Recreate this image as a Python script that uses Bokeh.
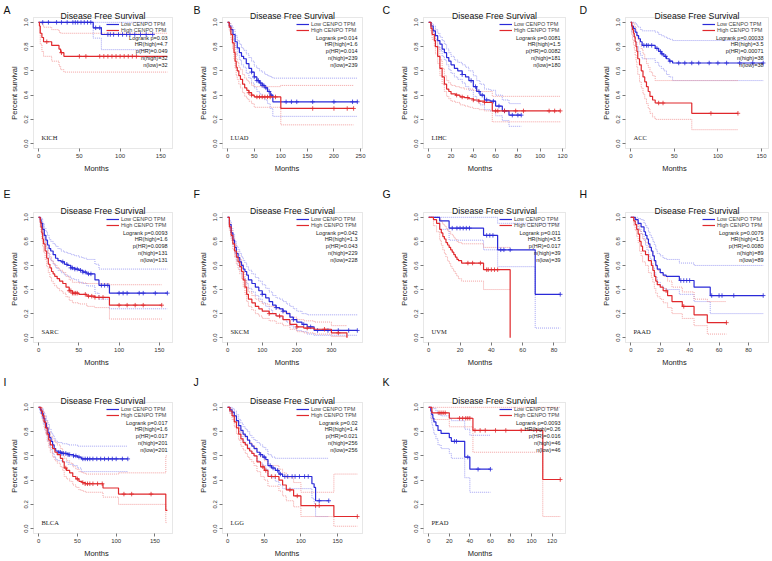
import numpy as np
from bokeh.plotting import figure
from bokeh.layouts import column, row
from bokeh.models import (Label, Legend, LegendItem, FixedTicker, Range1d,
                          NumeralTickFormatter, BoxAnnotation)
from bokeh.embed import file_html
from bokeh.resources import INLINE

TITLE = "Disease Free Survival"
LEGEND_LOW = "Low CENPO TPM"
LEGEND_HIGH = "High CENPO TPM"
X_LABEL = "Months"
Y_LABEL = "Percent survival"
Y_TICKS = [0.0, 0.2, 0.4, 0.6, 0.8, 1.0]

# ---------------- A: KICH ----------------
A_cancer = "KICH"
A_xticks = [0, 50, 100, 150]
A_stats = ["Logrank p=0.03", "HR(high)=4.7", "p(HR)=0.049", "n(high)=32", "n(low)=32"]
A_low_t = [0, 67, 77, 140]
A_low_s = [1.0, 0.955, 0.90, 0.90]
A_low_lo = [1.0, 0.87, 0.775, 0.775]
A_low_hi = [1.0, 1.0, 1.0, 1.0]
A_low_cens = [5, 12, 22, 28, 35, 42, 45, 48, 52, 56, 60, 64, 70, 75, 85, 88, 92, 98, 103, 108, 112, 118, 125, 132, 140]
A_high_t = [0, 1, 2, 4, 6, 16, 25, 27, 31, 158]
A_high_s = [1.0, 0.97, 0.91, 0.875, 0.84, 0.81, 0.78, 0.75, 0.72, 0.72]
A_high_lo = [1.0, 0.91, 0.82, 0.76, 0.72, 0.68, 0.64, 0.61, 0.59, 0.59]
A_high_hi = [1.0, 1.0, 1.0, 0.98, 0.96, 0.94, 0.92, 0.91, 0.91, 0.91]
A_high_cens = [10, 28, 50, 58, 75, 80, 85, 90, 95, 100, 105, 110, 115, 120]

# ---------------- B: LUAD ----------------
B_cancer = "LUAD"
B_xticks = [0, 50, 100, 150, 200, 250]
B_stats = ["Logrank p=0.014", "HR(high)=1.6", "p(HR)=0.014", "n(high)=239", "n(low)=239"]
B_low_t = [0, 3, 6, 10, 14, 18, 22, 26, 30, 35, 40, 45, 50, 55, 60, 65, 70, 75, 80, 85, 244]
B_low_s = [1.0, 0.97, 0.94, 0.9, 0.84, 0.79, 0.75, 0.72, 0.7, 0.66, 0.62, 0.59, 0.55, 0.52, 0.5, 0.48, 0.46, 0.43, 0.4, 0.345, 0.345]
B_low_lo = [1.0, 0.95, 0.91, 0.86, 0.79, 0.73, 0.69, 0.65, 0.63, 0.58, 0.54, 0.5, 0.46, 0.43, 0.41, 0.38, 0.36, 0.33, 0.29, 0.225, 0.225]
B_low_hi = [1.0, 0.99, 0.97, 0.94, 0.89, 0.85, 0.82, 0.79, 0.77, 0.74, 0.71, 0.68, 0.64, 0.62, 0.6, 0.59, 0.57, 0.56, 0.55, 0.54, 0.54]
B_low_cens = [45, 50, 55, 58, 62, 65, 68, 72, 78, 82, 110, 120, 130, 160, 200, 235, 244]
B_high_t = [0, 3, 6, 9, 12, 14, 16, 18, 21, 24, 28, 32, 36, 40, 45, 50, 100, 237]
B_high_s = [1.0, 0.96, 0.9, 0.83, 0.75, 0.68, 0.63, 0.6, 0.56, 0.53, 0.49, 0.46, 0.44, 0.42, 0.4, 0.385, 0.29, 0.29]
B_high_lo = [1.0, 0.93, 0.86, 0.78, 0.69, 0.62, 0.56, 0.53, 0.49, 0.46, 0.42, 0.39, 0.37, 0.35, 0.33, 0.3, 0.155, 0.155]
B_high_hi = [1.0, 0.99, 0.95, 0.89, 0.82, 0.75, 0.7, 0.67, 0.63, 0.61, 0.57, 0.54, 0.52, 0.5, 0.48, 0.47, 0.48, 0.48]
B_high_cens = [40, 45, 55, 60, 65, 70, 75, 80, 90, 160, 200, 225, 237]

# ---------------- C: LIHC ----------------
C_cancer = "LIHC"
C_xticks = [0, 20, 40, 60, 80, 100, 120]
C_stats = ["Logrank p=0.0081", "HR(high)=1.5", "p(HR)=0.0082", "n(high)=181", "n(low)=180"]
C_low_t = [0, 2, 4, 6, 8, 10, 12, 14, 16, 18, 20, 23, 26, 30, 33, 36, 40, 43, 46, 50, 55, 60, 66, 72, 83]
C_low_s = [1.0, 0.97, 0.93, 0.89, 0.85, 0.82, 0.78, 0.75, 0.71, 0.68, 0.65, 0.62, 0.6, 0.57, 0.55, 0.52, 0.47, 0.43, 0.40, 0.36, 0.35, 0.31, 0.27, 0.235, 0.235]
C_low_lo = [1.0, 0.95, 0.9, 0.85, 0.8, 0.77, 0.72, 0.69, 0.65, 0.61, 0.58, 0.55, 0.53, 0.5, 0.47, 0.44, 0.39, 0.35, 0.32, 0.28, 0.27, 0.23, 0.19, 0.143, 0.143]
C_low_hi = [1.0, 0.99, 0.97, 0.94, 0.91, 0.88, 0.85, 0.82, 0.78, 0.75, 0.72, 0.69, 0.67, 0.65, 0.63, 0.6, 0.56, 0.52, 0.49, 0.45, 0.44, 0.40, 0.36, 0.33, 0.33]
C_low_cens = [30, 38, 42, 45, 48, 52, 58, 63, 68, 75, 80, 83]
C_high_t = [0, 2, 3, 5, 6, 8, 10, 12, 14, 16, 18, 20, 24, 28, 32, 36, 40, 45, 50, 57, 118]
C_high_s = [1.0, 0.95, 0.9, 0.85, 0.8, 0.72, 0.62, 0.55, 0.49, 0.45, 0.43, 0.41, 0.4, 0.385, 0.38, 0.37, 0.36, 0.35, 0.34, 0.27, 0.27]
C_high_lo = [1.0, 0.92, 0.86, 0.8, 0.74, 0.66, 0.56, 0.49, 0.43, 0.39, 0.37, 0.35, 0.34, 0.32, 0.31, 0.3, 0.29, 0.28, 0.27, 0.18, 0.18]
C_high_hi = [1.0, 0.98, 0.94, 0.9, 0.86, 0.79, 0.69, 0.62, 0.56, 0.52, 0.5, 0.48, 0.47, 0.46, 0.45, 0.45, 0.44, 0.43, 0.43, 0.39, 0.39]
C_high_cens = [25, 30, 35, 40, 45, 50, 60, 62, 68, 78, 85, 108, 113, 118]

# ---------------- D: ACC ----------------
D_cancer = "ACC"
D_xticks = [0, 50, 100, 150]
D_stats = ["Logrank p=0.00033", "HR(high)=3.5", "p(HR)=0.00071", "n(high)=38", "n(low)=38"]
D_low_t = [0, 1, 3, 5, 7, 9, 11, 13, 28, 32, 35, 38, 41, 44, 48, 152]
D_low_s = [1.0, 0.97, 0.95, 0.92, 0.89, 0.865, 0.84, 0.81, 0.785, 0.76, 0.74, 0.72, 0.70, 0.68, 0.665, 0.665]
D_low_lo = [1.0, 0.92, 0.88, 0.84, 0.8, 0.76, 0.73, 0.7, 0.67, 0.64, 0.62, 0.6, 0.57, 0.55, 0.52, 0.52]
D_low_hi = [1.0, 1.0, 1.0, 0.99, 0.97, 0.96, 0.94, 0.93, 0.92, 0.9, 0.89, 0.88, 0.87, 0.86, 0.85, 0.85]
D_low_cens = [15, 18, 20, 24, 30, 34, 36, 40, 45, 55, 62, 70, 78, 90, 100, 110, 125, 140, 152]
D_high_t = [0, 1, 2, 3, 4, 5, 6, 7, 8, 10, 12, 14, 16, 18, 20, 22, 25, 28, 70, 123]
D_high_s = [1.0, 0.97, 0.94, 0.91, 0.88, 0.84, 0.8, 0.76, 0.7, 0.65, 0.6, 0.55, 0.51, 0.47, 0.43, 0.39, 0.36, 0.335, 0.25, 0.25]
D_high_lo = [1.0, 0.9, 0.86, 0.82, 0.78, 0.73, 0.68, 0.63, 0.57, 0.51, 0.46, 0.41, 0.37, 0.33, 0.29, 0.25, 0.22, 0.2, 0.115, 0.115]
D_high_hi = [1.0, 1.0, 1.0, 0.99, 0.98, 0.96, 0.93, 0.9, 0.86, 0.82, 0.78, 0.74, 0.7, 0.66, 0.63, 0.59, 0.56, 0.52, 0.52, 0.52]
D_high_cens = [32, 37, 92, 123]

# ---------------- E: SARC ----------------
E_cancer = "SARC"
E_xticks = [0, 50, 100, 150]
E_stats = ["Logrank p=0.0093", "HR(high)=1.6", "p(HR)=0.0098", "n(high)=131", "n(low)=131"]
E_low_t = [0, 2, 3, 5, 7, 9, 11, 13, 15, 18, 21, 24, 28, 32, 36, 40, 45, 50, 55, 60, 70, 75, 88, 160]
E_low_s = [1.0, 0.98, 0.95, 0.9, 0.85, 0.81, 0.77, 0.74, 0.72, 0.69, 0.66, 0.64, 0.63, 0.61, 0.6, 0.58, 0.57, 0.56, 0.545, 0.53, 0.48, 0.435, 0.37, 0.37]
E_low_lo = [1.0, 0.95, 0.91, 0.85, 0.79, 0.74, 0.7, 0.66, 0.64, 0.61, 0.58, 0.56, 0.54, 0.52, 0.51, 0.49, 0.48, 0.46, 0.45, 0.43, 0.37, 0.32, 0.24, 0.24]
E_low_hi = [1.0, 1.0, 0.99, 0.95, 0.91, 0.88, 0.85, 0.82, 0.8, 0.78, 0.76, 0.74, 0.72, 0.71, 0.7, 0.69, 0.68, 0.67, 0.66, 0.65, 0.61, 0.57, 0.57, 0.57]
E_low_cens = [30, 35, 40, 42, 45, 48, 52, 55, 58, 62, 65, 78, 82, 86, 100, 105, 110, 125, 130, 145, 160]
E_high_t = [0, 2, 3, 4, 5, 6, 8, 10, 12, 14, 16, 18, 20, 23, 26, 30, 34, 38, 42, 50, 60, 70, 88, 153]
E_high_s = [1.0, 0.96, 0.92, 0.87, 0.82, 0.78, 0.72, 0.66, 0.61, 0.58, 0.55, 0.53, 0.51, 0.49, 0.47, 0.45, 0.42, 0.39, 0.37, 0.36, 0.345, 0.335, 0.27, 0.27]
E_high_lo = [1.0, 0.92, 0.87, 0.81, 0.76, 0.71, 0.65, 0.59, 0.54, 0.5, 0.47, 0.45, 0.43, 0.41, 0.39, 0.37, 0.34, 0.31, 0.29, 0.28, 0.26, 0.25, 0.155, 0.155]
E_high_hi = [1.0, 0.99, 0.97, 0.93, 0.89, 0.86, 0.8, 0.75, 0.7, 0.67, 0.64, 0.62, 0.6, 0.58, 0.56, 0.54, 0.51, 0.48, 0.46, 0.455, 0.45, 0.45, 0.44, 0.44]
E_high_cens = [38, 40, 42, 44, 46, 48, 58, 62, 66, 70, 75, 80, 100, 110, 120, 130, 153]

# ---------------- F: SKCM ----------------
F_cancer = "SKCM"
F_xticks = [0, 100, 200, 300]
F_stats = ["Logrank p=0.042", "HR(high)=1.3", "p(HR)=0.043", "n(high)=229", "n(low)=228"]
F_low_t = [0, 5, 10, 15, 20, 25, 30, 35, 40, 45, 50, 55, 60, 70, 80, 90, 100, 110, 120, 130, 140, 150, 160, 170, 180, 190, 200, 215, 230, 250, 375]
F_low_s = [1.0, 0.94, 0.87, 0.81, 0.75, 0.7, 0.665, 0.63, 0.6, 0.57, 0.55, 0.52, 0.48, 0.45, 0.42, 0.39, 0.36, 0.33, 0.3, 0.27, 0.25, 0.24, 0.22, 0.2, 0.17, 0.15, 0.13, 0.11, 0.09, 0.06, 0.06]
F_low_lo = [1.0, 0.91, 0.83, 0.76, 0.7, 0.64, 0.6, 0.56, 0.53, 0.5, 0.48, 0.45, 0.41, 0.38, 0.35, 0.32, 0.29, 0.26, 0.23, 0.2, 0.18, 0.17, 0.15, 0.13, 0.1, 0.08, 0.06, 0.05, 0.03, 0.02, 0.02]
F_low_hi = [1.0, 0.97, 0.91, 0.86, 0.8, 0.76, 0.73, 0.7, 0.67, 0.64, 0.62, 0.59, 0.56, 0.53, 0.5, 0.47, 0.44, 0.41, 0.38, 0.35, 0.33, 0.32, 0.3, 0.28, 0.26, 0.24, 0.22, 0.2, 0.19, 0.19, 0.19]
F_low_cens = [100, 140, 160, 190, 220, 240, 260, 290, 320, 350, 375]
F_high_t = [0, 5, 10, 15, 20, 25, 30, 35, 40, 45, 50, 55, 60, 70, 80, 90, 100, 120, 140, 160, 180, 200, 220, 250, 300, 345]
F_high_s = [1.0, 0.92, 0.85, 0.78, 0.72, 0.67, 0.63, 0.59, 0.55, 0.48, 0.42, 0.36, 0.32, 0.29, 0.26, 0.24, 0.22, 0.2, 0.18, 0.15, 0.11, 0.09, 0.08, 0.07, 0.04, 0.0]
F_high_lo = [1.0, 0.89, 0.81, 0.73, 0.67, 0.61, 0.57, 0.53, 0.49, 0.42, 0.36, 0.3, 0.26, 0.23, 0.2, 0.18, 0.16, 0.14, 0.12, 0.1, 0.07, 0.05, 0.04, 0.03, 0.01, 0.0]
F_high_hi = [1.0, 0.95, 0.89, 0.83, 0.77, 0.72, 0.69, 0.65, 0.61, 0.54, 0.48, 0.42, 0.38, 0.35, 0.32, 0.3, 0.28, 0.26, 0.24, 0.21, 0.17, 0.15, 0.14, 0.13, 0.1, 0.1]
F_high_cens = [120, 150, 200, 230, 280, 320]

# ---------------- G: UVM ----------------
G_cancer = "UVM"
G_xticks = [0, 20, 40, 60, 80]
G_stats = ["Logrank p=0.011", "HR(high)=3.5", "p(HR)=0.017", "n(high)=39", "n(low)=39"]
G_low_t = [0, 7, 13, 35, 44, 68, 84]
G_low_s = [1.0, 0.97, 0.91, 0.85, 0.73, 0.36, 0.36]
G_low_lo = [1.0, 0.9, 0.81, 0.73, 0.59, 0.08, 0.08]
G_low_hi = [1.0, 1.0, 1.0, 1.0, 0.95, 0.95, 0.95]
G_low_cens = [15, 18, 20, 22, 24, 26, 37, 39, 41, 46, 48, 52, 84]
G_high_t = [0, 3, 5, 7, 8, 9, 10, 11, 12, 13, 14, 15, 16, 17, 18, 19, 21, 35, 52]
G_high_s = [1.0, 0.98, 0.95, 0.9, 0.87, 0.84, 0.82, 0.79, 0.77, 0.75, 0.73, 0.71, 0.69, 0.67, 0.65, 0.64, 0.62, 0.565, 0.0]
G_high_lo = [1.0, 0.93, 0.88, 0.81, 0.77, 0.73, 0.7, 0.67, 0.64, 0.62, 0.59, 0.57, 0.55, 0.53, 0.51, 0.49, 0.47, 0.40, 0.40]
G_high_hi = [1.0, 1.0, 1.0, 0.98, 0.96, 0.94, 0.93, 0.91, 0.89, 0.88, 0.86, 0.85, 0.83, 0.82, 0.8, 0.79, 0.78, 0.75, 0.75]
G_high_cens = [25, 28, 33, 37, 38, 40, 42, 44]

# ---------------- H: PAAD ----------------
H_cancer = "PAAD"
H_xticks = [0, 20, 40, 60, 80]
H_stats = ["Logrank p=0.0079", "HR(high)=1.5", "p(HR)=0.0080", "n(high)=89", "n(low)=89"]
H_low_t = [0, 3, 5, 7, 9, 10, 11, 12, 13, 14, 15, 16, 17, 18, 20, 22, 24, 33, 43, 54, 90]
H_low_s = [1.0, 0.98, 0.95, 0.92, 0.88, 0.85, 0.82, 0.78, 0.75, 0.72, 0.68, 0.64, 0.6, 0.57, 0.54, 0.52, 0.51, 0.475, 0.42, 0.35, 0.35]
H_low_lo = [1.0, 0.95, 0.9, 0.86, 0.81, 0.77, 0.73, 0.69, 0.66, 0.62, 0.58, 0.54, 0.5, 0.46, 0.43, 0.41, 0.4, 0.36, 0.3, 0.2, 0.2]
H_low_hi = [1.0, 1.0, 0.99, 0.98, 0.95, 0.93, 0.91, 0.88, 0.85, 0.83, 0.8, 0.77, 0.73, 0.7, 0.68, 0.66, 0.65, 0.62, 0.6, 0.6, 0.6]
H_low_cens = [34, 36, 38, 40, 55, 60, 62, 70, 90]
H_high_t = [0, 2, 3, 4, 5, 6, 7, 8, 10, 12, 14, 15, 16, 17, 18, 20, 22, 25, 28, 35, 43, 52, 65]
H_high_s = [1.0, 0.97, 0.94, 0.9, 0.86, 0.8, 0.76, 0.72, 0.69, 0.64, 0.6, 0.56, 0.51, 0.47, 0.44, 0.42, 0.39, 0.35, 0.3, 0.26, 0.19, 0.125, 0.125]
H_high_lo = [1.0, 0.93, 0.89, 0.84, 0.79, 0.72, 0.68, 0.63, 0.6, 0.54, 0.5, 0.46, 0.41, 0.37, 0.34, 0.32, 0.29, 0.25, 0.2, 0.16, 0.1, 0.03, 0.03]
H_high_hi = [1.0, 1.0, 0.99, 0.97, 0.94, 0.89, 0.86, 0.82, 0.79, 0.75, 0.71, 0.68, 0.63, 0.59, 0.56, 0.54, 0.51, 0.47, 0.42, 0.38, 0.32, 0.3, 0.3]
H_high_cens = [24, 36, 65]

# ---------------- I: BLCA ----------------
I_cancer = "BLCA"
I_xticks = [0, 50, 100, 150]
I_stats = ["Logrank p=0.017", "HR(high)=1.6", "p(HR)=0.017", "n(high)=201", "n(low)=201"]
I_low_t = [0, 2, 4, 6, 8, 10, 12, 14, 16, 18, 20, 22, 25, 30, 38, 45, 50, 55, 115]
I_low_s = [1.0, 0.98, 0.95, 0.91, 0.87, 0.83, 0.79, 0.75, 0.72, 0.69, 0.66, 0.64, 0.63, 0.62, 0.61, 0.6, 0.59, 0.575, 0.575]
I_low_lo = [1.0, 0.95, 0.91, 0.86, 0.81, 0.77, 0.72, 0.68, 0.65, 0.62, 0.59, 0.57, 0.56, 0.55, 0.53, 0.52, 0.5, 0.47, 0.47]
I_low_hi = [1.0, 1.0, 0.99, 0.96, 0.93, 0.89, 0.86, 0.82, 0.79, 0.77, 0.74, 0.72, 0.71, 0.7, 0.69, 0.69, 0.68, 0.68, 0.68]
I_low_cens = [26, 28, 30, 32, 35, 38, 40, 45, 48, 52, 57, 60, 63, 66, 70, 75, 80, 85, 90, 95, 100, 108, 115]
I_high_t = [0, 3, 5, 7, 9, 11, 13, 15, 18, 21, 24, 28, 31, 33, 36, 40, 44, 48, 52, 56, 60, 83, 103, 164, 166]
I_high_s = [1.0, 0.97, 0.93, 0.88, 0.83, 0.78, 0.73, 0.69, 0.66, 0.63, 0.61, 0.58, 0.55, 0.5, 0.48, 0.46, 0.43, 0.41, 0.39, 0.38, 0.37, 0.335, 0.285, 0.15, 0.15]
I_high_lo = [1.0, 0.94, 0.89, 0.83, 0.78, 0.72, 0.67, 0.63, 0.59, 0.56, 0.54, 0.51, 0.48, 0.43, 0.41, 0.39, 0.36, 0.34, 0.32, 0.31, 0.3, 0.26, 0.2, 0.05, 0.05]
I_high_hi = [1.0, 1.0, 0.97, 0.93, 0.89, 0.84, 0.8, 0.76, 0.73, 0.71, 0.69, 0.66, 0.63, 0.58, 0.56, 0.54, 0.51, 0.49, 0.47, 0.46, 0.45, 0.45, 0.46, 0.6, 0.6]
I_high_cens = [35, 50, 57, 60, 63, 66, 70, 76, 82, 110, 120, 145]

# ---------------- J: LGG ----------------
J_cancer = "LGG"
J_xticks = [0, 50, 100, 150]
J_stats = ["Logrank p=0.02", "HR(high)=1.4", "p(HR)=0.021", "n(high)=256", "n(low)=256"]
J_low_t = [0, 3, 6, 9, 12, 15, 18, 21, 24, 27, 30, 33, 36, 40, 44, 48, 52, 55, 60, 65, 70, 75, 115, 118, 120, 138]
J_low_s = [1.0, 0.98, 0.96, 0.93, 0.89, 0.85, 0.81, 0.78, 0.76, 0.73, 0.7, 0.68, 0.66, 0.63, 0.61, 0.59, 0.57, 0.52, 0.5, 0.48, 0.45, 0.43, 0.37, 0.34, 0.23, 0.23]
J_low_lo = [1.0, 0.96, 0.93, 0.89, 0.85, 0.8, 0.76, 0.72, 0.7, 0.67, 0.64, 0.62, 0.6, 0.56, 0.54, 0.52, 0.49, 0.44, 0.42, 0.39, 0.36, 0.33, 0.25, 0.21, 0.1, 0.1]
J_low_hi = [1.0, 1.0, 0.99, 0.97, 0.94, 0.9, 0.87, 0.84, 0.82, 0.8, 0.77, 0.75, 0.73, 0.71, 0.69, 0.67, 0.65, 0.61, 0.59, 0.58, 0.58, 0.58, 0.58, 0.58, 0.58, 0.58]
J_low_cens = [45, 50, 58, 62, 68, 72, 78, 82, 88, 92, 98, 105, 110, 125, 138]
J_high_t = [0, 3, 6, 9, 12, 15, 18, 21, 24, 27, 30, 33, 36, 40, 45, 50, 55, 70, 75, 80, 90, 100, 145, 177]
J_high_s = [1.0, 0.97, 0.93, 0.88, 0.83, 0.78, 0.74, 0.71, 0.69, 0.66, 0.64, 0.62, 0.6, 0.55, 0.51, 0.48, 0.43, 0.4, 0.36, 0.32, 0.27, 0.19, 0.1, 0.1]
J_high_lo = [1.0, 0.95, 0.9, 0.84, 0.78, 0.73, 0.68, 0.65, 0.62, 0.59, 0.57, 0.55, 0.52, 0.47, 0.43, 0.4, 0.35, 0.31, 0.27, 0.23, 0.18, 0.1, 0.02, 0.02]
J_high_hi = [1.0, 0.99, 0.96, 0.92, 0.88, 0.83, 0.8, 0.77, 0.75, 0.73, 0.71, 0.69, 0.67, 0.63, 0.59, 0.56, 0.52, 0.49, 0.46, 0.42, 0.38, 0.3, 0.45, 0.45]
J_high_cens = [48, 52, 60, 65, 85, 95, 120, 125, 177]

# ---------------- K: PEAD ----------------
K_cancer = "PEAD"
K_xticks = [0, 20, 40, 60, 80, 100, 120]
K_stats = ["Logrank p=0.0093", "HR(high)=0.26", "p(HR)=0.016", "n(high)=46", "n(low)=46"]
K_low_t = [0, 2, 3, 4, 5, 7, 9, 12, 20, 22, 35, 40, 60]
K_low_s = [1.0, 0.97, 0.94, 0.91, 0.88, 0.85, 0.81, 0.785, 0.75, 0.72, 0.59, 0.49, 0.49]
K_low_lo = [1.0, 0.91, 0.86, 0.82, 0.78, 0.74, 0.69, 0.66, 0.62, 0.58, 0.42, 0.3, 0.3]
K_low_hi = [1.0, 1.0, 1.0, 1.0, 0.99, 0.97, 0.94, 0.93, 0.91, 0.89, 0.82, 0.77, 0.77]
K_low_cens = [25, 27, 38, 48, 60]
K_high_t = [0, 3, 20, 43, 111, 128]
K_high_s = [1.0, 0.955, 0.91, 0.81, 0.405, 0.405]
K_high_lo = [1.0, 0.9, 0.84, 0.63, 0.1, 0.1]
K_high_hi = [1.0, 1.0, 1.0, 1.0, 1.0, 1.0]
K_high_cens = [10, 12, 14, 16, 30, 33, 36, 38, 40, 45, 50, 55, 65, 75, 90, 105, 128]

LETTERS = ["A", "B", "C", "D", "E", "F", "G", "H", "I", "J", "K"]
g = globals()
PANELS = []
for L in LETTERS:
    PANELS.append(dict(
        letter=L, cancer=g[L + "_cancer"], xticks=g[L + "_xticks"], stats=g[L + "_stats"],
        low=(g[L + "_low_t"], g[L + "_low_s"], g[L + "_low_lo"], g[L + "_low_hi"], g[L + "_low_cens"]),
        high=(g[L + "_high_t"], g[L + "_high_s"], g[L + "_high_lo"], g[L + "_high_hi"], g[L + "_high_cens"]),
    ))

# layout geometry (pixels): columns (width, box_left, box_right_gap, letter_x),
# rows (height, box_top, box_bottom_gap, letter_top)
COLS = [(192, 33, 20, 3), (189, 30, 19, 1), (197, 42, 13, 1), (192, 47, 2, 1)]
ROWS = [(185, 17, 37, 3), (187, 27, 30, 2), (187, 30, 26, 3)]

BLUE = "#2a2ad8"
RED = "#e0282c"
BLUE_CI = "#8a8af0"
RED_CI = "#f08a8a"
FONT = "Liberation Sans"


def km_value(t, s, c):
    t = np.asarray(t, dtype=float)
    s = np.asarray(s, dtype=float)
    idx = np.searchsorted(t, np.asarray(c, dtype=float), side="right") - 1
    return s[np.clip(idx, 0, len(s) - 1)]


def make_panel(cfg, ci, ri):
    W, BL, BR, LX = COLS[ci]
    H, BT, BB, LTOP = ROWS[ri]
    bw = W - BL - BR
    bh = H - BT - BB
    xmax = max(cfg["low"][0][-1], cfg["high"][0][-1])
    bx0, bx1 = -0.04 * xmax, 1.04 * xmax
    by0, by1 = -0.04, 1.04
    dx = (bx1 - bx0) / bw
    dy = (by1 - by0) / bh
    p = figure(width=W, height=H, min_border=0, min_border_left=0, min_border_right=0,
               min_border_top=0, min_border_bottom=0,
               x_range=Range1d(bx0 - BL * dx, bx1 + BR * dx),
               y_range=Range1d(by0 - BB * dy, by1 + BT * dy),
               output_backend="svg", toolbar_location=None, title=None)
    p.grid.visible = False
    p.outline_line_color = None
    p.border_fill_color = "white"
    p.background_fill_color = "white"

    p.add_layout(BoxAnnotation(left=bx0, right=bx1, bottom=by0, top=by1,
                               fill_color=None, fill_alpha=0,
                               line_color="#9c9c9c", line_width=0.8, level="underlay"))

    p.xaxis.ticker = FixedTicker(ticks=cfg["xticks"])
    p.yaxis.ticker = FixedTicker(ticks=Y_TICKS)
    p.yaxis.formatter = NumeralTickFormatter(format="0.0")
    p.xaxis.axis_label = X_LABEL
    p.yaxis.axis_label = Y_LABEL
    p.xaxis.fixed_location = by0
    p.yaxis.fixed_location = bx0
    for ax in (p.xaxis[0], p.yaxis[0]):
        ax.axis_line_color = None
        ax.major_tick_line_color = "#555555"
        ax.major_tick_line_width = 0.8
        ax.major_tick_in = 0
        ax.major_tick_out = 3
        ax.minor_tick_line_color = None
        ax.major_label_text_font = FONT
        ax.major_label_text_font_size = "6px"
        ax.major_label_text_color = "#333333"
        ax.major_label_standoff = 2
        ax.axis_label_text_font = FONT
        ax.axis_label_text_font_size = "7.5px"
        ax.axis_label_text_font_style = "normal"
        ax.axis_label_text_color = "#222222"
        ax.axis_label_standoff = 3
    p.yaxis.major_label_orientation = "vertical"

    rends = {}
    for key, cicol in (("low", BLUE_CI), ("high", RED_CI)):
        t, s, lo, hi, cens = cfg[key]
        p.step(t, lo, mode="after", line_color=cicol, line_dash="1 1", line_width=0.8)
        p.step(t, hi, mode="after", line_color=cicol, line_dash="1 1", line_width=0.8)
    for key, col in (("low", BLUE), ("high", RED)):
        t, s, lo, hi, cens = cfg[key]
        rends[key] = p.step(t, s, mode="after", line_color=col, line_width=1.2)
        p.scatter(cens, km_value(t, s, cens), marker="cross", size=4.5,
                  line_color=col, line_width=0.8)

    legend = Legend(items=[LegendItem(label=LEGEND_LOW, renderers=[rends["low"]]),
                           LegendItem(label=LEGEND_HIGH, renderers=[rends["high"]])],
                    location=(W - BR - 66, H - BT - 16), margin=0, padding=0, spacing=0,
                    glyph_width=13, glyph_height=6, label_height=6, label_standoff=2,
                    label_text_font=FONT, label_text_font_size="5.5px",
                    label_text_line_height=1.0,
                    border_line_color=None, background_fill_alpha=0)
    p.add_layout(legend)

    for i, txt in enumerate(cfg["stats"]):
        p.add_layout(Label(x=W - BR - 5, y=H - BT - 20 - 6.8 * i, x_units="screen", y_units="screen",
                           text=txt, text_align="right", text_baseline="middle",
                           text_font=FONT, text_font_size="5.5px", text_color="#222222"))
    p.add_layout(Label(x=BL + bw / 2, y=H - BT + 1.5, x_units="screen", y_units="screen", text=TITLE,
                       text_align="center", text_baseline="alphabetic",
                       text_font=FONT, text_font_size="8.7px", text_color="#111111"))
    p.add_layout(Label(x=LX, y=H - LTOP, x_units="screen", y_units="screen",
                       text=cfg["letter"], text_align="left", text_baseline="top",
                       text_font=FONT, text_font_size="10.5px", text_color="#111111"))
    p.add_layout(Label(x=BL + 8, y=BB + 11, x_units="screen", y_units="screen", text=cfg["cancer"],
                       text_align="left", text_baseline="middle",
                       text_font="Liberation Serif", text_font_size="6.5px", text_color="#222222"))
    return p


figs = [make_panel(cfg, i % 4, i // 4) for i, cfg in enumerate(PANELS)]
layout = column(row(*figs[0:4]), row(*figs[4:8]), row(*figs[8:11]))

open("out.html", "w").write(file_html(layout, INLINE))
